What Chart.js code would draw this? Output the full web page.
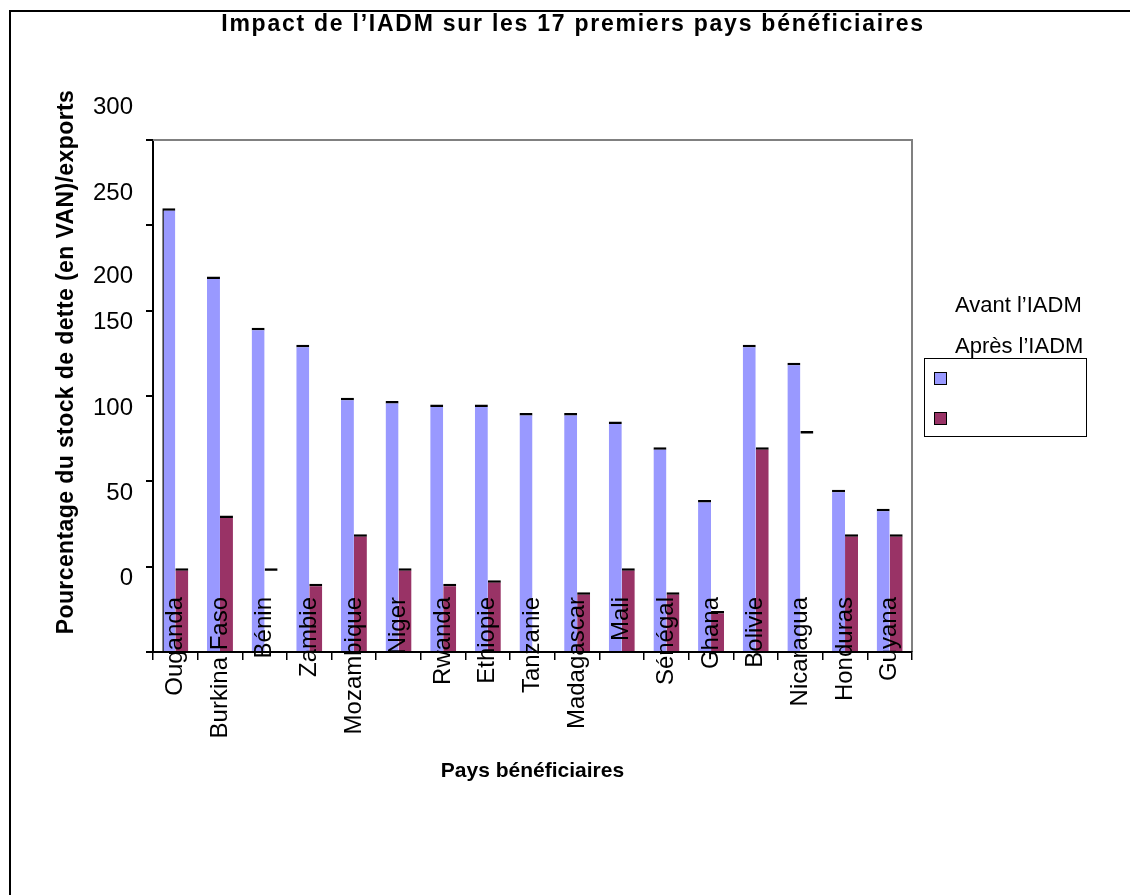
<!DOCTYPE html>
<html>
<head>
<meta charset="utf-8">
<script src="https://cdn.jsdelivr.net/npm/chart.js@4/dist/chart.umd.min.js"></script>
<style>
html,body{margin:0;padding:0;background:#fff;overflow:hidden;}
#wrap{position:relative;width:1130px;height:895px;font-family:"Liberation Sans",Arial,sans-serif;color:#000;}
#frame{position:absolute;left:9px;top:10px;width:1140px;height:900px;border-left:2px solid #000;border-top:2px solid #000;}
canvas{position:absolute;left:0;top:0;}
#title{position:absolute;left:150px;width:846px;top:10px;line-height:26px;font-size:23px;font-weight:bold;text-align:center;letter-spacing:1.75px;white-space:nowrap;}
#ytitle{position:absolute;left:-235.5px;top:347px;width:600px;height:30px;line-height:30px;font-size:23px;font-weight:bold;text-align:center;letter-spacing:0.4px;white-space:nowrap;transform:rotate(-90deg);}
.legtxt{position:absolute;left:955px;font-size:22px;line-height:26px;white-space:nowrap;}
#legbox{position:absolute;left:924px;top:358px;width:161px;height:77px;border:1.5px solid #000;}
.sw{position:absolute;left:9px;width:11px;height:11px;border:1.5px solid #000;}
</style>
</head>
<body>
<div id="wrap">
  <canvas id="c" width="1130" height="895"></canvas>
  <div id="frame"></div>
  <div id="title"></div>
  <div id="ytitle"></div>
  <div id="leg"></div>
</div>
<script>
const chartTitle = 'Impact de l’IADM  sur les 17 premiers pays bénéficiaires';
const yAxisTitle = 'Pourcentage du stock de dette (en VAN)/exports';
const xAxisTitle = 'Pays bénéficiaires';
const categories = ['Ouganda','Burkina Faso','Bénin','Zambie','Mozambique','Niger','Rwanda','Ethiopie','Tanzanie','Madagascar','Mali','Sénégal','Ghana','Bolivie','Nicaragua','Honduras','Guyana'];
const seriesNames = ['Avant l’IADM','Après l’IADM'];
const avantIADM = [260, 220, 190, 180, 149, 147, 145, 145, 140, 140, 135, 120, 89, 180, 169.5, 95, 84];
const apresIADM = [49, 80, 49, 40, 69, 49, 40, 42, null, 35, 49, 35, 24, 120, 129.5, 69, 69];
const apresSansRemplissage = ['Bénin','Nicaragua'];
const yTickLabels = ['0','50','100','150','200','250','300'];
const yTickLabelValues = [43, 93, 143, 193, 220, 269, 319];
const yMin = 0, yMax = 300, yStep = 50;
const colors = ['#9999FF', '#993366'];

const FONT = '"Liberation Sans", Arial, sans-serif';
Chart.defaults.font.family = FONT;
Chart.defaults.color = '#000';

document.getElementById('title').textContent = chartTitle;
document.getElementById('ytitle').textContent = yAxisTitle;

// legend (HTML)
const leg = document.getElementById('leg');
const tops = [292, 333];
seriesNames.forEach((n, i) => {
  const t = document.createElement('div');
  t.className = 'legtxt'; t.style.top = tops[i] + 'px'; t.textContent = n;
  leg.appendChild(t);
});
const box = document.createElement('div'); box.id = 'legbox';
colors.forEach((c, i) => {
  const s = document.createElement('div');
  s.className = 'sw'; s.style.top = (13 + i * 40) + 'px'; s.style.background = c;
  box.appendChild(s);
});
leg.appendChild(box);

const plotBorder = {
  id: 'plotBorder',
  beforeDatasetsDraw(chart) {
    const {ctx, chartArea: a} = chart;
    ctx.save();
    ctx.strokeStyle = '#808080';
    ctx.lineWidth = 2;
    ctx.beginPath();
    ctx.moveTo(a.left, a.top);
    ctx.lineTo(a.right, a.top);
    ctx.lineTo(a.right, a.bottom);
    ctx.stroke();
    ctx.restore();
  }
};

new Chart(document.getElementById('c'), {
  type: 'bar',
  data: {
    labels: categories,
    datasets: [
      {
        label: seriesNames[0], data: avantIADM, backgroundColor: colors[0], borderColor: '#000',
        borderWidth: ctx => ctx.dataIndex === 0 ? {top: 2.5, left: 1.5, right: 0, bottom: 0} : {top: 2.5, left: 0, right: 0, bottom: 0},
        yAxisID: 'y'
      },
      {
        label: seriesNames[1], data: apresIADM,
        backgroundColor: ctx => apresSansRemplissage.includes(categories[ctx.dataIndex]) ? 'rgba(0,0,0,0)' : colors[1],
        borderColor: '#000', borderWidth: {top: 2.5, left: 0, right: 0, bottom: 0},
        yAxisID: 'y'
      }
    ]
  },
  options: {
    responsive: false, animation: false, devicePixelRatio: 1,
    layout: {padding: {left: 40, right: 218, top: 140, bottom: 111}},
    plugins: {legend: {display: false}, title: {display: false}, tooltip: {enabled: false}},
    datasets: {bar: {categoryPercentage: 0.582, barPercentage: 1}},
    scales: {
      x: {
        type: 'category', position: 'bottom', offset: true,
        grid: {display: true, drawOnChartArea: false, drawTicks: true, tickLength: 8, color: '#000', lineWidth: 1.5, offset: true},
        border: {display: true, color: '#000', width: 2, z: 1},
        ticks: {autoSkip: false, minRotation: 90, maxRotation: 90, padding: -63, color: '#000', font: {size: 24}, z: 1},
        title: {display: true, text: xAxisTitle, color: '#000', font: {size: 21, weight: 'bold'}, padding: {top: 0, bottom: 0}},
        afterFit: s => { s.height = 132; s._computeLabelArea = () => null; }
      },
      y: {
        type: 'linear', position: 'left', min: yMin, max: yMax, weight: 0,
        ticks: {display: false, stepSize: yStep},
        grid: {display: true, drawOnChartArea: false, drawTicks: true, tickLength: 7, color: '#000', lineWidth: 2},
        border: {display: true, color: '#000', width: 2},
        afterFit: s => { s.width = 8; }
      },
      yl: {
        type: 'linear', position: 'left', min: yMin, max: yMax, weight: 1,
        grid: {display: false, drawTicks: false},
        border: {display: false},
        ticks: {autoSkip: false, padding: 12, color: '#000', font: {size: 24}, callback: (v, i) => yTickLabels[i]},
        afterBuildTicks: s => { s.ticks = yTickLabelValues.map(v => ({value: v})); },
        afterFit: s => { s.width = 105; }
      }
    }
  },
  plugins: [plotBorder]
});
</script>
</body>
</html>
